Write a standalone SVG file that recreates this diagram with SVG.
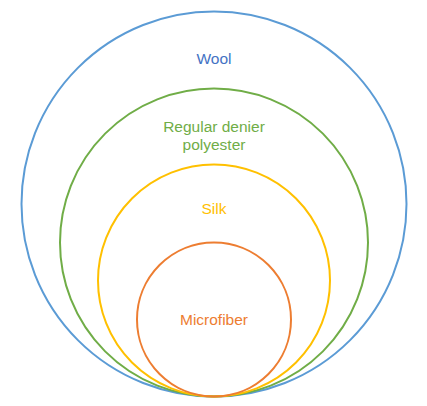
<svg xmlns="http://www.w3.org/2000/svg" width="427" height="406" viewBox="0 0 427 406">
<style>
circle{fill:none;stroke-width:2}
text{font-family:"Liberation Sans",Arial,sans-serif;font-size:15.5px;text-anchor:middle}
</style>
<rect width="427" height="406" fill="#fff"/>
<g id="wool"><circle cx="214" cy="204" r="192.5" stroke="#5B9BD5"/><text x="214" y="64" fill="#4472C4">Wool</text></g>
<g id="polyester"><circle cx="214" cy="242.5" r="154" stroke="#70AD47"/><text x="214" y="132" fill="#70AD47">Regular denier</text><text x="214" y="150" fill="#70AD47">polyester</text></g>
<g id="silk"><circle cx="214" cy="280.5" r="116" stroke="#FFC000"/><text x="214" y="214" fill="#FFC000">Silk</text></g>
<g id="microfiber"><circle cx="214" cy="319.5" r="77" stroke="#ED7D31"/><text x="214" y="325" fill="#ED7D31">Microfiber</text></g>
<g id="connectors"/>
</svg>
